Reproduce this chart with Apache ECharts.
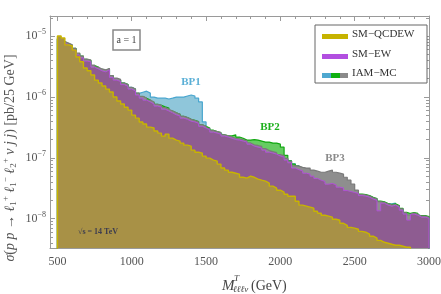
<!DOCTYPE html>
<html><head><meta charset="utf-8">
<script src="https://cdn.jsdelivr.net/npm/echarts@6/dist/echarts.min.js"></script>
<style>html,body{margin:0;padding:0;background:#fff}#c{width:441px;height:294px}</style>
</head><body><div id="c"></div>
<script>
// ---------------- data ----------------
const binEdges = [500,525,550,575,600,625,650,675,700,725,750,775,800,825,850,875,900,925,950,975,
1000,1025,1050,1075,1100,1125,1150,1175,1200,1225,1250,1275,1300,1325,1350,1375,1400,1425,1450,1475,
1500,1525,1550,1575,1600,1625,1650,1675,1700,1725,1750,1775,1800,1825,1850,1875,1900,1925,1950,1975,
2000,2025,2050,2075,2100,2125,2150,2175,2200,2225,2250,2275,2300,2325,2350,2375,2400,2425,2450,2475,
2500,2525,2550,2575,2600,2625,2650,2675,2700,2725,2750,2775,2800,2825,2850,2875,2900,2925,2950,2975,3000];

// SM-QCDEW: bins above 2875 GeV fall below the plotted range
const smQcdew = [1.01e-5,9.35e-6,7.2e-6,6.9e-6,5.9e-6,4.55e-6,3.8e-6,3.0e-6,2.7e-6,2.3e-6,
1.9e-6,1.7e-6,1.52e-6,1.35e-6,1.21e-6,1.0e-6,8.6e-7,7.7e-7,6.8e-7,6.1e-7,
5.05e-7,4.5e-7,3.9e-7,3.6e-7,3.2e-7,3.1e-7,2.76e-7,2.55e-7,2.28e-7,2.46e-7,
2.11e-7,1.96e-7,1.89e-7,1.75e-7,1.62e-7,1.56e-7,1.34e-7,1.24e-7,1.2e-7,1.07e-7,
9.9e-8,9.2e-8,8.85e-8,7.9e-8,6.8e-8,6.3e-8,5.8e-8,5.6e-8,5.4e-8,4.8e-8,
4.64e-8,5.0e-8,4.8e-8,4.47e-8,4.3e-8,4.14e-8,3.84e-8,3.43e-8,3.18e-8,2.94e-8,
2.73e-8,2.53e-8,2.34e-8,2.34e-8,1.94e-8,1.67e-8,1.61e-8,1.55e-8,1.49e-8,1.33e-8,
1.23e-8,1.14e-8,1.1e-8,1.06e-8,9.8e-9,9.45e-9,8.4e-9,7.8e-9,7.2e-9,7.0e-9,
6.7e-9,6.2e-9,6.0e-9,5.6e-9,5.15e-9,4.8e-9,4.4e-9,4.1e-9,3.95e-9,3.8e-9,
3.66e-9,3.66e-9,3.53e-9,3.4e-9,3.4e-9];

const smEw = [8.7e-6,7.7e-6,7.2e-6,6.7e-6,5.9e-6,4.9e-6,4.4e-6,3.9e-6,3.8e-6,3.1e-6,
2.9e-6,2.7e-6,2.6e-6,2.8e-6,2.1e-6,1.9e-6,1.8e-6,1.6e-6,1.5e-6,1.35e-6,
1.26e-6,1.08e-6,9.6e-7,8.9e-7,8.3e-7,7.7e-7,7.1e-7,6.8e-7,6.3e-7,5.9e-7,
5.5e-7,5.1e-7,4.9e-7,4.5e-7,4.3e-7,4.0e-7,3.9e-7,3.7e-7,3.3e-7,3.1e-7,
2.9e-7,2.65e-7,2.55e-7,2.46e-7,2.28e-7,2.2e-7,2.1e-7,2.0e-7,1.96e-7,1.89e-7,
1.82e-7,1.68e-7,1.56e-7,1.5e-7,1.45e-7,1.34e-7,1.24e-7,1.2e-7,1.15e-7,1.07e-7,
1.03e-7,9.2e-8,8.3e-8,6.8e-8,6.4e-8,6.1e-8,5.6e-8,5.4e-8,5.0e-8,4.6e-8,
4.3e-8,4.1e-8,3.7e-8,3.8e-8,3.6e-8,3.3e-8,3.2e-8,2.9e-8,2.8e-8,2.7e-8,
2.6e-8,2.4e-8,2.35e-8,2.26e-8,2.1e-8,2.0e-8,1.35e-8,1.8e-8,1.67e-8,1.6e-8,
1.67e-8,1.55e-8,1.38e-8,1.19e-8,9.5e-9,1.19e-8,1.14e-8,1.06e-8,1.06e-8,1.02e-8];

const iamBP1 = [9.0e-6,8.0e-6,7.5e-6,7.0e-6,6.2e-6,5.1e-6,4.6e-6,4.1e-6,3.9e-6,3.3e-6,
3.0e-6,2.8e-6,2.7e-6,2.8e-6,2.2e-6,2.0e-6,1.9e-6,1.7e-6,1.6e-6,1.45e-6,
1.35e-6,1.15e-6,1.2e-6,1.25e-6,1.16e-6,1.0e-6,9.6e-7,9.6e-7,9.6e-7,9.3e-7,
9.6e-7,1.0e-6,1.0e-6,1.0e-6,1.04e-6,1.08e-6,1.04e-6,9.6e-7,8.3e-7,3.9e-7,
3.0e-7,2.75e-7,2.6e-7,2.5e-7,2.35e-7,2.25e-7,2.15e-7,2.05e-7,2.0e-7,1.93e-7,
1.86e-7,1.72e-7,1.6e-7,1.54e-7,1.49e-7,1.38e-7,1.28e-7,1.24e-7,1.19e-7,1.11e-7,
1.07e-7,9.6e-8,8.9e-8,8.0e-8,7.4e-8,6.6e-8,5.9e-8,5.6e-8,5.2e-8,4.8e-8,
4.5e-8,4.3e-8,3.9e-8,3.95e-8,3.75e-8,3.45e-8,3.35e-8,3.0e-8,2.9e-8,2.8e-8,
2.7e-8,2.5e-8,2.45e-8,2.35e-8,2.2e-8,2.1e-8,1.9e-8,1.85e-8,1.75e-8,1.75e-8,
1.8e-8,1.62e-8,1.45e-8,1.25e-8,1.18e-8,1.22e-8,1.18e-8,1.1e-8,1.1e-8,1.05e-8];

const iamBP2 = [9.1e-6,8.1e-6,7.6e-6,7.1e-6,6.3e-6,5.2e-6,4.7e-6,4.15e-6,4.0e-6,3.3e-6,
3.1e-6,2.85e-6,2.75e-6,2.9e-6,2.25e-6,2.0e-6,1.9e-6,1.7e-6,1.6e-6,1.43e-6,
1.34e-6,1.15e-6,1.02e-6,9.5e-7,8.9e-7,8.2e-7,7.6e-7,7.3e-7,6.9e-7,6.6e-7,
5.9e-7,5.5e-7,5.2e-7,4.8e-7,4.6e-7,4.3e-7,4.15e-7,3.95e-7,3.5e-7,3.3e-7,
3.1e-7,2.85e-7,2.7e-7,2.6e-7,2.4e-7,2.3e-7,2.3e-7,2.4e-7,2.2e-7,2.1e-7,
1.96e-7,1.96e-7,2.0e-7,1.96e-7,1.89e-7,1.82e-7,1.82e-7,1.75e-7,1.75e-7,1.68e-7,
1.5e-7,1.1e-7,8.9e-8,7.9e-8,7.3e-8,6.8e-8,6.0e-8,5.8e-8,5.4e-8,4.9e-8,
4.6e-8,4.4e-8,4.0e-8,4.05e-8,3.85e-8,3.5e-8,3.4e-8,3.1e-8,3.0e-8,2.9e-8,
2.8e-8,2.55e-8,2.5e-8,2.4e-8,2.25e-8,2.15e-8,1.95e-8,1.9e-8,1.78e-8,1.7e-8,
1.76e-8,1.65e-8,1.48e-8,1.27e-8,1.22e-8,1.26e-8,1.22e-8,1.13e-8,1.13e-8,1.08e-8];

const iamBP3 = [9.2e-6,8.2e-6,7.7e-6,7.2e-6,6.3e-6,5.3e-6,4.7e-6,4.2e-6,4.05e-6,3.35e-6,
3.1e-6,2.9e-6,2.8e-6,2.95e-6,2.25e-6,2.05e-6,1.95e-6,1.7e-6,1.6e-6,1.45e-6,
1.36e-6,1.16e-6,1.03e-6,9.6e-7,8.9e-7,8.3e-7,7.6e-7,7.3e-7,6.7e-7,6.3e-7,
5.9e-7,5.5e-7,5.2e-7,4.8e-7,4.6e-7,4.3e-7,4.1e-7,3.9e-7,3.5e-7,3.3e-7,
3.05e-7,2.8e-7,2.7e-7,2.6e-7,2.4e-7,2.3e-7,2.2e-7,2.1e-7,2.05e-7,1.98e-7,
1.9e-7,1.76e-7,1.64e-7,1.6e-7,1.55e-7,1.42e-7,1.32e-7,1.27e-7,1.22e-7,1.13e-7,
1.09e-7,9.8e-8,8.8e-8,7.4e-8,7.3e-8,7.0e-8,6.8e-8,6.8e-8,6.3e-8,6.05e-8,
5.8e-8,5.8e-8,6.05e-8,6.3e-8,5.8e-8,5.6e-8,5.4e-8,4.8e-8,4.3e-8,3.7e-8,
2.94e-8,2.5e-8,2.45e-8,2.35e-8,2.2e-8,2.1e-8,1.9e-8,1.85e-8,1.75e-8,1.68e-8,
1.7e-8,1.6e-8,1.45e-8,1.25e-8,1.15e-8,1.24e-8,1.18e-8,1.1e-8,1.1e-8,1.05e-8];

const xMajorTicks = [500,1000,1500,2000,2500,3000];
const xMinorTicks = [600,700,800,900,1100,1200,1300,1400,1600,1700,1800,1900,2100,2200,2300,2400,2600,2700,2800,2900];
const yMajorTicks = [1e-8,1e-7,1e-6,1e-5];
const yMinorTicks = [4e-9,5e-9,6e-9,7e-9,8e-9,9e-9,2e-8,3e-8,4e-8,5e-8,6e-8,7e-8,8e-8,9e-8,
2e-7,3e-7,4e-7,5e-7,6e-7,7e-7,8e-7,9e-7,2e-6,3e-6,4e-6,5e-6,6e-6,7e-6,8e-6,9e-6,2e-5];
const xRange = [450, 3000];
const yRange = [3.3e-9, 2.15e-5];
const offScale = 1e-10;

// ---------------- build ----------------
const font = "'Liberation Serif','DejaVu Serif',serif";
const axCol = '#9a9a9a';
function hist(vals){
  const d = [[binEdges[0], offScale]];
  for (let i = 0; i < vals.length; i++) d.push([binEdges[i], vals[i]]);
  d.push([binEdges[vals.length], offScale]);
  return d;
}
function mk(name, vals, fill, stroke, w, z){
  return {type:'line', name, data:hist(vals), step:'end', symbol:'none', z, clip:true,
    lineStyle:{color:stroke, width:w}, areaStyle:{color:fill, opacity:1, origin:'start'},
    animation:false, silent:true};
}
function xAx(pos, ticks, len, showLine, label){
  return {type:'value', min:xRange[0], max:xRange[1], position:pos,
    axisLine:{show:showLine, lineStyle:{color:axCol, width:1}},
    axisTick:{show:true, inside:true, length:len, customValues:ticks, lineStyle:{color:axCol}},
    axisLabel: label ? {show:true, customValues:ticks, color:'#555', fontFamily:font, fontSize:12, margin:8,
      formatter: v => String(Math.round(v))} : {show:false},
    splitLine:{show:false}};
}
function yAx(pos, ticks, len, showLine, label){
  return {type:'log', logBase:10, min:yRange[0], max:yRange[1], position:pos,
    axisLine:{show:showLine, lineStyle:{color:axCol, width:1}},
    axisTick:{show:true, inside:true, length:len, customValues:ticks, lineStyle:{color:axCol}},
    axisLabel: label ? {show:true, customValues:ticks, margin:4,
      formatter: v => '{b|10}{e|−' + Math.round(-Math.log10(v)) + '}',
      rich:{b:{fontSize:12, fontFamily:font, color:'#555'}, e:{fontSize:8, fontFamily:font, color:'#555', padding:[0,0,8,0]}}} : {show:false},
    splitLine:{show:false}};
}

const chart = echarts.init(document.getElementById('c'), null, {renderer:'canvas'});
const rich = {
  n:{fontSize:14, fontFamily:font, fill:'#555', color:'#555'},
  i:{fontSize:14, fontFamily:font, fontStyle:'italic', fill:'#555', color:'#555'},
  p:{fontSize:9, fontFamily:font, fill:'#555', color:'#555', padding:[0,0,9,0]},
  b:{fontSize:9, fontFamily:font, fill:'#555', color:'#555', padding:[7,0,0,0]}
};
chart.setOption({
  animation:false,
  grid:{left:50, right:12, top:16, bottom:46, outerBoundsMode:'none'},
  xAxis:[xAx('bottom', xMajorTicks, 5, true, true), xAx('bottom', xMinorTicks, 3, false, false),
         xAx('top', xMajorTicks, 5, true, false), xAx('top', xMinorTicks, 3, false, false)],
  yAxis:[yAx('left', yMajorTicks, 5, true, true), yAx('left', yMinorTicks, 3, false, false),
         yAx('right', yMajorTicks, 5, true, false), yAx('right', yMinorTicks, 3, false, false)],
  series:[
    mk('BP1', iamBP1, '#8fc6da', '#49a6cf', 1.2, 2),
    mk('BP2', iamBP2, '#66cc62', '#12a812', 1.2, 3),
    mk('BP3', iamBP3, '#8e8e8e', '#7a7a7a', 1.2, 4),
    mk('SM-EW', smEw, '#8e5c91', '#b052d6', 1.0, 5),
    mk('SM-QCDEW', smQcdew, '#a89146', '#c8b400', 1.4, 6)
  ],
  graphic:[
    // legend
    {type:'rect', shape:{x:315, y:25, width:112, height:58}, style:{fill:'#fff', stroke:'#666', lineWidth:1}, z:100},
    {type:'rect', shape:{x:322, y:34, width:26, height:5}, style:{fill:'#c6b300'}, z:101},
    {type:'rect', shape:{x:322, y:54, width:26, height:5}, style:{fill:'#b24fe0'}, z:101},
    {type:'rect', shape:{x:322, y:73, width:9, height:5}, style:{fill:'#4fa8d0'}, z:101},
    {type:'rect', shape:{x:331, y:73, width:9, height:5}, style:{fill:'#10b010'}, z:101},
    {type:'rect', shape:{x:340, y:73, width:8, height:5}, style:{fill:'#8a8a8a'}, z:101},
    {type:'text', x:352, y:34, z:101, style:{text:'SM−QCDEW', font:'11px '+font, fill:'#333', verticalAlign:'middle'}},
    {type:'text', x:352, y:54, z:101, style:{text:'SM−EW', font:'11px '+font, fill:'#333', verticalAlign:'middle'}},
    {type:'text', x:352, y:73, z:101, style:{text:'IAM−MC', font:'11px '+font, fill:'#333', verticalAlign:'middle'}},
    // a = 1 box
    {type:'rect', shape:{x:113, y:30, width:27, height:20}, style:{fill:'#fff', stroke:'#888', lineWidth:1.5}, z:100},
    {type:'text', x:126.5, y:40, z:101, style:{text:'a = 1', font:'10px '+font, fill:'#444', align:'center', verticalAlign:'middle'}},
    // BP labels
    {type:'text', x:191, y:82, z:101, style:{text:'BP1', font:'bold 11px '+font, fill:'#5aafd6', align:'center', verticalAlign:'middle'}},
    {type:'text', x:270, y:127, z:101, style:{text:'BP2', font:'bold 11px '+font, fill:'#1db01d', align:'center', verticalAlign:'middle'}},
    {type:'text', x:335, y:158, z:101, style:{text:'BP3', font:'bold 11px '+font, fill:'#8a8a8a', align:'center', verticalAlign:'middle'}},
    // sqrt s
    {type:'text', x:78, y:232, z:101, style:{text:'√s = 14 TeV', font:'bold 8px '+font, fill:'#3c3c50', verticalAlign:'middle'}},
    // x title
    {type:'text', x:222, y:286, z:101, style:{text:'M', font:'italic 15px '+font, fill:'#444', verticalAlign:'middle'}},
    {type:'text', x:234, y:279, z:101, style:{text:'T', font:'italic 9px '+font, fill:'#444', verticalAlign:'middle'}},
    {type:'text', x:233, y:290, z:101, style:{text:'ℓℓℓν', font:'italic 9px '+font, fill:'#444', verticalAlign:'middle'}},
    {type:'text', x:251, y:286, z:101, style:{text:'(GeV)', font:'14px '+font, fill:'#444', verticalAlign:'middle'}},
    // y title
    {type:'text', x:10, y:158, rotation:Math.PI/2, z:101, style:{
      text:'{i|σ}{n|(}{i|p p}{n| → }{i|ℓ}{b|1}{p|+}{n| }{i|ℓ}{b|1}{p|−}{n| }{i|ℓ}{b|2}{p|+}{n| }{i|ν j j}{n|) [pb/25 GeV]}',
      rich: rich, align:'center', verticalAlign:'middle'}}
  ]
});
</script></body></html>
